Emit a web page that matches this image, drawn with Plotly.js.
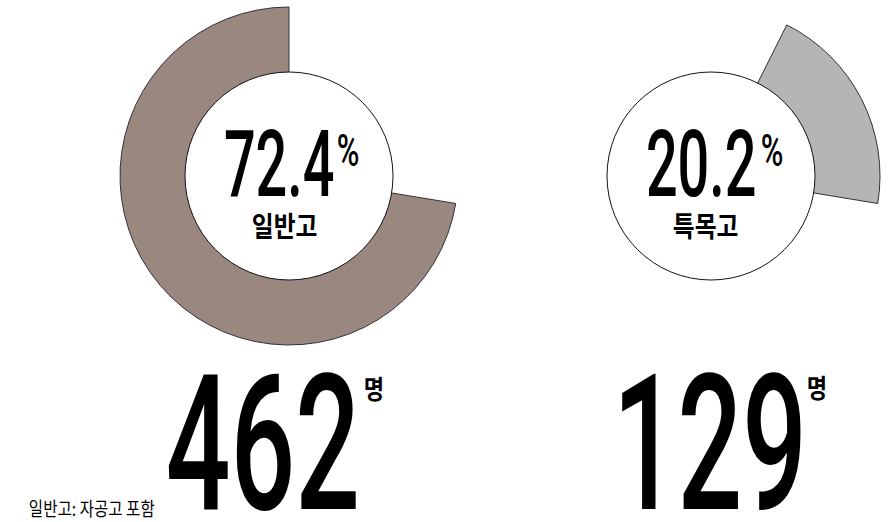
<!DOCTYPE html>
<html>
<head>
<meta charset="utf-8">
<script src="https://cdn.plot.ly/plotly-3.0.1.min.js"></script>
<style>
  html, body { margin: 0; padding: 0; background: #ffffff; }
  #chart { width: 894px; height: 522px; }
</style>
</head>
<body>
<div id="chart"></div>
<script>
// ---- data ----
const schoolTypes = ['일반고', '특목고', '기타'];
const shares = [72.4, 20.2, 7.4];          // % of students
const counts = [462, 129];                 // number of students
const countUnit = '명';
const footnote = '일반고: 자공고 포함';

// ---- styling ----
const W = 894, H = 522;
const px = x => x / W;
const py = y => 1 - y / H;
const brown = '#9a8880';
const grey = '#b5b5b5';
const edge = '#333333';
const clear = 'rgba(0,0,0,0)';
const numFont = 'Roboto, "Liberation Sans", sans-serif';
const krFont = '"Noto Sans CJK KR", "Noto Sans", sans-serif';

// slices run counter-clockwise from 12 o'clock: drawn clockwise in reverse order
function pieTrace(highlight, color, x0, x1) {
  const order = shares.map((_, i) => i).reverse();
  return {
    type: 'pie',
    values: order.map(i => shares[i]),
    labels: order.map(i => schoolTypes[i]),
    sort: false,
    direction: 'clockwise',
    rotation: 0,
    hole: 0.6,
    textinfo: 'none',
    hoverinfo: 'skip',
    showlegend: false,
    marker: {
      colors: order.map(i => i === highlight ? color : clear),
      line: { color: edge, width: order.map(i => i === highlight ? 1 : 0) }
    },
    domain: { x: [px(x0), px(x1)], y: [py(345), py(7)] }
  };
}

const traces = [
  pieTrace(0, brown, 120, 458),
  pieTrace(1, grey, 542, 880)
];

function circle(cx, cy, r) {
  return {
    type: 'circle', xref: 'paper', yref: 'paper', layer: 'above',
    x0: px(cx - r), x1: px(cx + r), y0: py(cy + r), y1: py(cy - r),
    fillcolor: '#ffffff', line: { color: '#111111', width: 1 }
  };
}

const ann = [];
const condense = [];
function addText(text, x, y, size, family, weight, s, anchor) {
  ann.push({
    text: text, x: px(x), y: py(y), xref: 'paper', yref: 'paper',
    xanchor: anchor || 'center', yanchor: 'middle', showarrow: false,
    font: { family: family, size: size, color: '#000000', weight: weight }
  });
  condense.push(s);
}

// percentages & labels inside circles
addText(shares[0].toFixed(1), 278.5, 164, 93, numFont, 500, 0.6);
addText('%', 348, 151, 44, numFont, 500, 0.7);
addText(schoolTypes[0], 284.5, 225, 28, krFont, 700, 0.85);
addText(shares[1].toFixed(1), 701, 164, 93, numFont, 500, 0.6);
addText('%', 771.5, 151, 44, numFont, 500, 0.7);
addText(schoolTypes[1], 705.5, 225, 28, krFont, 700, 0.85);
// counts
addText(String(counts[0]), 262.5, 443.5, 190, numFont, 500, 0.6);
addText(countUnit, 374, 387.5, 26, krFont, 700, 0.85);
addText(String(counts[1]), 709.5, 443.5, 190, numFont, 500, 0.6);
addText(countUnit, 816.5, 386.5, 26, krFont, 700, 0.85);
// footnote
addText(footnote, 92, 507.5, 19, krFont, 400, 0.82);

const layout = {
  width: W, height: H,
  margin: { l: 0, r: 0, t: 0, b: 0 },
  paper_bgcolor: '#ffffff', plot_bgcolor: '#ffffff',
  showlegend: false,
  shapes: [circle(289, 176, 104), circle(711, 176, 104)],
  annotations: ann
};

Plotly.newPlot('chart', traces, layout, { displayModeBar: false, staticPlot: true }).then(gd => {
  // narrow the text horizontally around its own centre (condensed type)
  gd.querySelectorAll('g.annotation').forEach(g => {
    const i = +g.getAttribute('data-index');
    const s = condense[i];
    const t = g.querySelector('text.annotation-text');
    if (!t || !s || s === 1) return;
    const b = t.getBBox();
    const cx = b.x + b.width / 2;
    t.setAttribute('transform', `translate(${cx},0) scale(${s},1) translate(${-cx},0)`);
  });
});
</script>
</body>
</html>
